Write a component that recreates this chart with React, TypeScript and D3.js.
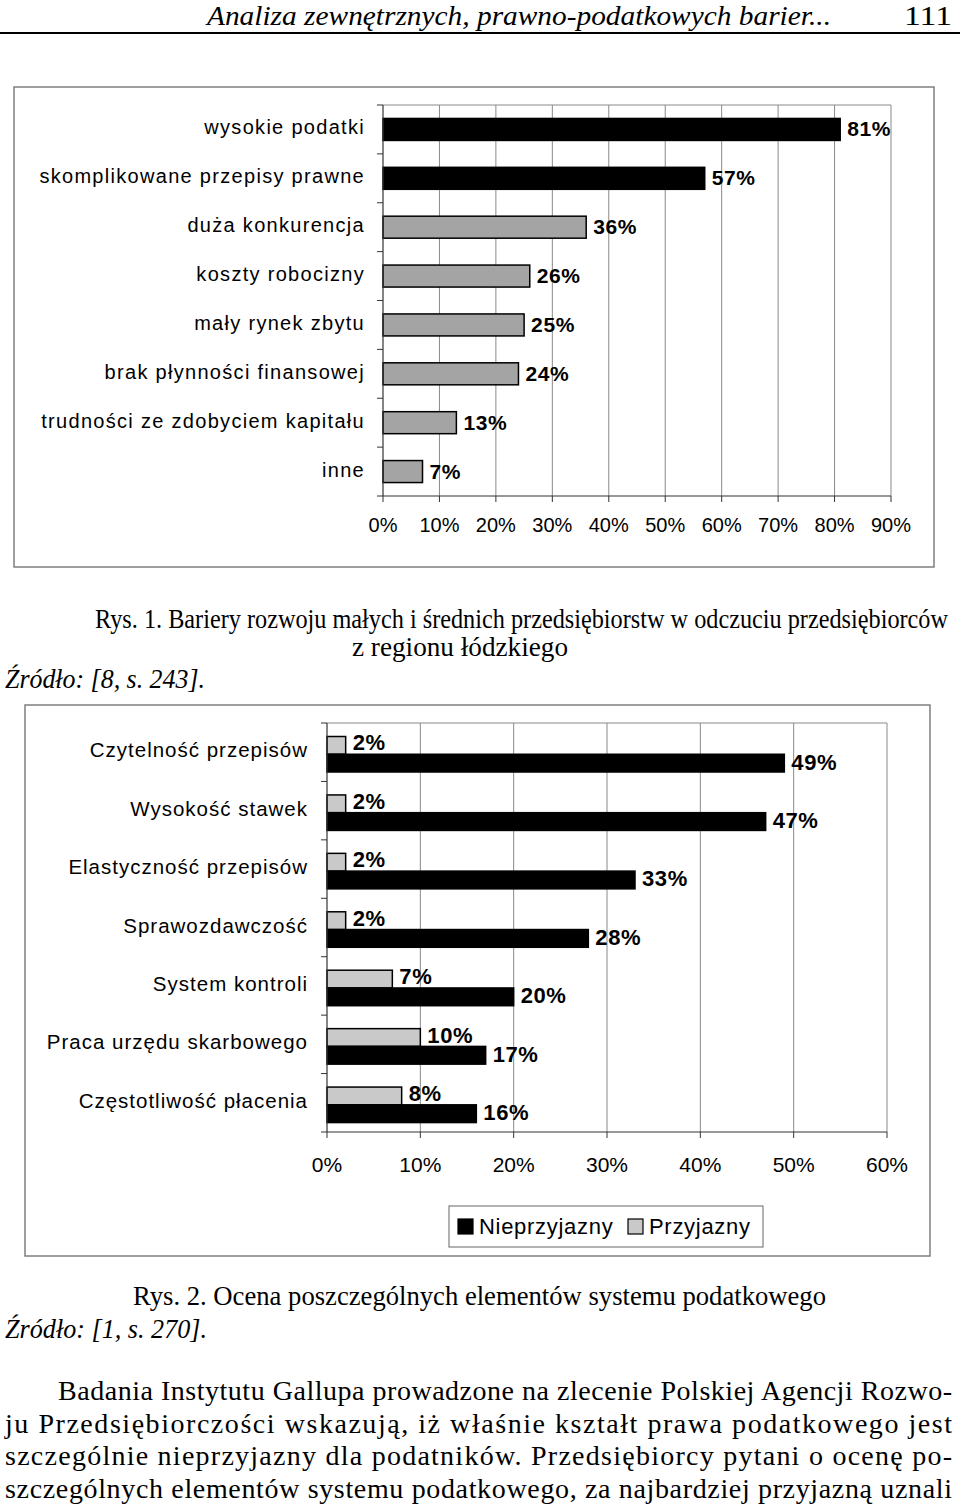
import React from 'react';
import * as d3 from 'd3';

// ---------- DATA ----------
const headerTitle = 'Analiza zewnętrznych, prawno-podatkowych barier...';
const pageNumber = '111';

const barrierCategories = [
  'wysokie podatki',
  'skomplikowane przepisy prawne',
  'duża konkurencja',
  'koszty robocizny',
  'mały rynek zbytu',
  'brak płynności finansowej',
  'trudności ze zdobyciem kapitału',
  'inne',
];
const barrierValues = [81, 57, 36, 26, 25, 24, 13, 7];
const highlightedBarriers = ['wysokie podatki', 'skomplikowane przepisy prawne'];
const barrierTicks = [0, 10, 20, 30, 40, 50, 60, 70, 80, 90];

const caption1 = [
  'Rys. 1. Bariery rozwoju małych i średnich przedsiębiorstw w odczuciu przedsiębiorców',
  'z regionu łódzkiego',
];
const source1 = 'Źródło: [8, s. 243].';

const taxCategories = [
  'Czytelność przepisów',
  'Wysokość stawek',
  'Elastyczność przepisów',
  'Sprawozdawczość',
  'System kontroli',
  'Praca urzędu skarbowego',
  'Częstotliwość płacenia',
];
const unfriendlyValues = [49, 47, 33, 28, 20, 17, 16];
const friendlyValues = [2, 2, 2, 2, 7, 10, 8];
const taxSeries = ['Przyjazny', 'Nieprzyjazny'];
const legendItems = ['Nieprzyjazny', 'Przyjazny'];
const taxTicks = [0, 10, 20, 30, 40, 50, 60];

const caption2 = 'Rys. 2. Ocena poszczególnych elementów systemu podatkowego';
const source2 = 'Źródło: [1, s. 270].';

const paragraphLines = [
  'Badania Instytutu Gallupa prowadzone na zlecenie Polskiej Agencji Rozwo-',
  'ju Przedsiębiorczości wskazują, iż właśnie kształt prawa podatkowego jest',
  'szczególnie nieprzyjazny dla podatników. Przedsiębiorcy pytani o ocenę po-',
  'szczególnych elementów systemu podatkowego, za najbardziej przyjazną uznali',
];

// ---------- STYLE ----------
const SANS = '"Liberation Sans", Arial, Helvetica, sans-serif';
const SERIF = '"Liberation Serif", "Times New Roman", serif';
const FRAME = '#7f7f7f';
const GRID = '#8a8a8a';
const AXIS = '#333';
const GRAY1 = '#a4a4a4';
const GRAY2 = '#c9c9c9';

const pct = (v: number) => `${v}%`;

type CTextProps = {
  x: number;
  y: number;
  w: number;
  size: number;
  squeeze: number;
  italic?: boolean;
  adjust?: 'spacing' | 'spacingAndGlyphs';
  children: string;
};

// Serif text of a given total width (the scanned page uses a narrow Times)
function CText({ x, y, w, size, squeeze, italic, adjust, children }: CTextProps) {
  return (
    <text
      transform={`translate(${x},${y}) scale(${squeeze},1)`}
      x={0}
      y={0}
      fontFamily={SERIF}
      fontStyle={italic ? 'italic' : 'normal'}
      fontSize={size}
      textLength={w / squeeze}
      lengthAdjust={adjust || 'spacingAndGlyphs'}
    >
      {children}
    </text>
  );
}

function Chart1() {
  const x = d3.scaleLinear().domain([0, 90]).range([383, 891]);
  const yb = d3.scaleBand<string>().domain(barrierCategories).range([105, 496]);
  const y = d3
    .scaleBand<string>()
    .domain(barrierCategories)
    .range([105, 496])
    .paddingInner(0.55)
    .paddingOuter(0.275);
  const top = 105;
  const bottom = 496;
  const boundaries = d3.range(barrierCategories.length + 1).map((i) => top + i * yb.step());
  return (
    <g>
      <rect x={14} y={87} width={920} height={480} fill="#fff" stroke={FRAME} strokeWidth={1.5} />
      <line x1={x(0)} x2={x(90)} y1={top} y2={top} stroke={GRID} strokeWidth={1} />
      {barrierTicks.slice(1).map((t) => (
        <line key={t} x1={x(t)} x2={x(t)} y1={top} y2={bottom} stroke={GRID} strokeWidth={1} />
      ))}
      {barrierCategories.map((c, i) => {
        const v = barrierValues[i];
        const hl = highlightedBarriers.includes(c);
        const cy = (y(c) as number) + y.bandwidth() / 2;
        return (
          <g key={c}>
            <rect
              x={x(0)}
              y={y(c)}
              width={x(v) - x(0)}
              height={y.bandwidth()}
              fill={hl ? '#000' : GRAY1}
              stroke="#000"
              strokeWidth={1.5}
            />
            <text
              x={x(v) + 7}
              y={cy + 7}
              fontFamily={SANS}
              fontWeight="bold"
              fontSize={21}
              style={{ letterSpacing: '0.6px' }}
            >
              {pct(v)}
            </text>
            <text
              x={365}
              y={(yb(c) as number) + yb.bandwidth() / 2 + 5}
              textAnchor="end"
              fontFamily={SANS}
              fontSize={20}
              style={{ letterSpacing: '1.3px' }}
            >
              {c}
            </text>
          </g>
        );
      })}
      <line x1={x(0)} x2={x(0)} y1={top} y2={bottom} stroke={AXIS} strokeWidth={1.2} />
      {boundaries.map((b, i) => (
        <line key={i} x1={x(0) - 6} x2={x(0)} y1={b} y2={b} stroke={AXIS} strokeWidth={1} />
      ))}
      <line x1={x(0)} x2={x(90)} y1={bottom} y2={bottom} stroke={AXIS} strokeWidth={1.2} />
      {barrierTicks.map((t) => (
        <g key={t}>
          <line x1={x(t)} x2={x(t)} y1={bottom} y2={bottom + 6} stroke={AXIS} strokeWidth={1} />
          <text x={x(t)} y={532} textAnchor="middle" fontFamily={SANS} fontSize={20}>
            {pct(t)}
          </text>
        </g>
      ))}
    </g>
  );
}

function Chart2() {
  const x = d3.scaleLinear().domain([0, 60]).range([327, 887]);
  const top = 723;
  const bottom = 1132;
  const yb = d3.scaleBand<string>().domain(taxCategories).range([top, bottom]);
  const ys = d3.scaleBand<string>().domain(taxSeries).range([13.5, 49]);
  const boundaries = d3.range(taxCategories.length + 1).map((i) => top + i * yb.step());
  const series = [
    { key: 'Przyjazny', values: friendlyValues, fill: GRAY2, dy: 5 },
    { key: 'Nieprzyjazny', values: unfriendlyValues, fill: '#000', dy: 6.5 },
  ];
  return (
    <g>
      <rect x={25} y={705} width={905} height={551} fill="#fff" stroke={FRAME} strokeWidth={1.5} />
      <line x1={x(0)} x2={x(60)} y1={top} y2={top} stroke={GRID} strokeWidth={1} />
      {taxTicks.slice(1).map((t) => (
        <line key={t} x1={x(t)} x2={x(t)} y1={top} y2={bottom} stroke={GRID} strokeWidth={1} />
      ))}
      {taxCategories.map((c, i) => {
        const b = yb(c) as number;
        return (
          <g key={c}>
            {series.map((s) => {
              const v = s.values[i];
              const by = b + (ys(s.key) as number);
              return (
                <g key={s.key}>
                  <rect
                    x={x(0)}
                    y={by}
                    width={x(v) - x(0)}
                    height={ys.bandwidth()}
                    fill={s.fill}
                    stroke="#000"
                    strokeWidth={1.5}
                  />
                  <text
                    x={x(v) + 7}
                    y={by + ys.bandwidth() / 2 + s.dy}
                    fontFamily={SANS}
                    fontWeight="bold"
                    fontSize={22}
                    style={{ letterSpacing: '0.6px' }}
                  >
                    {pct(v)}
                  </text>
                </g>
              );
            })}
            <text
              x={308}
              y={b + yb.bandwidth() / 2 + 5}
              textAnchor="end"
              fontFamily={SANS}
              fontSize={20.5}
              style={{ letterSpacing: '1px' }}
            >
              {c}
            </text>
          </g>
        );
      })}
      <line x1={x(0)} x2={x(0)} y1={top} y2={bottom} stroke={AXIS} strokeWidth={1.2} />
      {boundaries.map((bb, i) => (
        <line key={i} x1={x(0) - 6} x2={x(0)} y1={bb} y2={bb} stroke={AXIS} strokeWidth={1} />
      ))}
      <line x1={x(0)} x2={x(60)} y1={bottom} y2={bottom} stroke={AXIS} strokeWidth={1.2} />
      {taxTicks.map((t) => (
        <g key={t}>
          <line x1={x(t)} x2={x(t)} y1={bottom} y2={bottom + 6} stroke={AXIS} strokeWidth={1} />
          <text x={x(t)} y={1172} textAnchor="middle" fontFamily={SANS} fontSize={21}>
            {pct(t)}
          </text>
        </g>
      ))}
      <rect x={449} y={1206} width={314} height={41} fill="#fff" stroke={FRAME} strokeWidth={1.2} />
      {legendItems.map((name, i) => {
        const lx = i === 0 ? 458 : 628;
        return (
          <g key={name}>
            <rect
              x={lx}
              y={1219}
              width={15}
              height={15}
              fill={name === 'Nieprzyjazny' ? '#000' : GRAY2}
              stroke="#000"
              strokeWidth={1.2}
            />
            <text
              x={lx + 21}
              y={1234}
              fontFamily={SANS}
              fontSize={22}
              style={{ letterSpacing: '0.7px' }}
            >
              {name}
            </text>
          </g>
        );
      })}
    </g>
  );
}

export default function App() {
  return (
    <svg
      width={960}
      height={1506}
      viewBox="0 0 960 1506"
      style={{ position: 'absolute', left: 0, top: 0, display: 'block', background: '#fff' }}
    >
      <rect x={0} y={0} width={960} height={1506} fill="#fff" />
      <CText x={207} y={25} w={624} size={28} squeeze={0.85} italic>
        {headerTitle}
      </CText>
      <CText x={904} y={25} w={48} size={28} squeeze={0.85}>
        {pageNumber}
      </CText>
      <line x1={0} x2={960} y1={33} y2={33} stroke="#000" strokeWidth={2} />

      <Chart1 />

      <CText x={95} y={628} w={853} size={27} squeeze={0.85}>
        {caption1[0]}
      </CText>
      <CText x={352} y={656} w={216} size={27} squeeze={0.85}>
        {caption1[1]}
      </CText>
      <CText x={5} y={688} w={200} size={27} squeeze={0.85} italic>
        {source1}
      </CText>

      <Chart2 />

      <CText x={133} y={1305} w={693} size={27} squeeze={0.85}>
        {caption2}
      </CText>
      <CText x={5} y={1338} w={202} size={27} squeeze={0.85} italic>
        {source2}
      </CText>

      {paragraphLines.map((l, i) => (
        <CText
          key={i}
          x={i === 0 ? 58 : 5}
          y={1400 + i * 32.7}
          w={i === 0 ? 894 : 947}
          size={28}
          squeeze={1}
          adjust="spacing"
        >
          {l}
        </CText>
      ))}
    </svg>
  );
}
